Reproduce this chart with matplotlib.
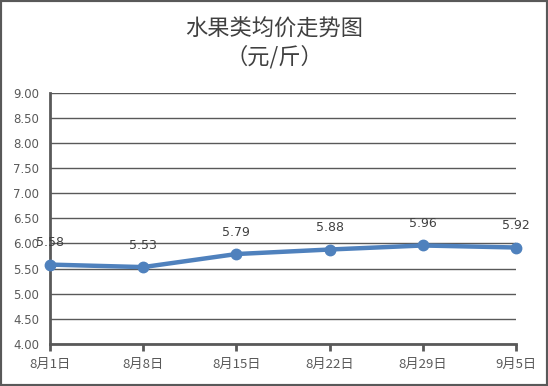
import matplotlib
matplotlib.use("Agg")
import matplotlib.pyplot as plt
from matplotlib.patches import Rectangle

plt.rcParams['font.family'] = ['Noto Sans CJK SC', 'DejaVu Sans']

categories = ["8月1日", "8月8日", "8月15日", "8月22日", "8月29日", "9月5日"]
values = [5.58, 5.53, 5.79, 5.88, 5.96, 5.92]
yticks = [4.0, 4.5, 5.0, 5.5, 6.0, 6.5, 7.0, 7.5, 8.0, 8.5, 9.0]

fig = plt.figure(figsize=(5.48, 3.86), dpi=100)
fig.patches.append(Rectangle((0, 0), 1, 1, transform=fig.transFigure,
                             fill=False, edgecolor='#595959', linewidth=3, zorder=10))
ax = fig.add_axes([50/548, 1-344/386, (516-50)/548, (344-92.7)/386])

x = list(range(len(categories)))
ax.plot(x, values, color='#4F81BD', linewidth=3.2, marker='o', markersize=7.5,
        clip_on=False, zorder=5)
for xi, v in zip(x, values):
    ax.annotate(f"{v:.2f}", (xi, v), xytext=(0, 11), textcoords='offset points',
                ha='center', va='bottom', fontsize=9, color='#404040', family='DejaVu Sans')

ax.set_xlim(0, len(categories)-1)
ax.set_ylim(4.0, 9.0)
ax.set_yticks(yticks)
ax.set_yticklabels([f"{t:.2f}" for t in yticks], fontsize=8.5, color='#595959', family='DejaVu Sans')
ax.set_xticks(x)
ax.set_xticklabels(categories, fontsize=9.5, color='#595959')
ax.yaxis.grid(True, color='#595959', linewidth=1)
ax.set_axisbelow(True)
for s in ['top', 'right']:
    ax.spines[s].set_visible(False)
for s in ['left', 'bottom']:
    ax.spines[s].set_color('#595959')
    ax.spines[s].set_linewidth(2)
ax.tick_params(axis='y', length=0, pad=8)
ax.tick_params(axis='x', length=5, width=2, color='#595959', pad=5)

fig.text(0.5, 1-28/386, "水果类均价走势图", ha='center', va='center', fontsize=16, color='#404040')
fig.text(0.5, 1-57/386, "（元/斤）", ha='center', va='center', fontsize=16, color='#404040')

fig.savefig("out.png", dpi=100)
